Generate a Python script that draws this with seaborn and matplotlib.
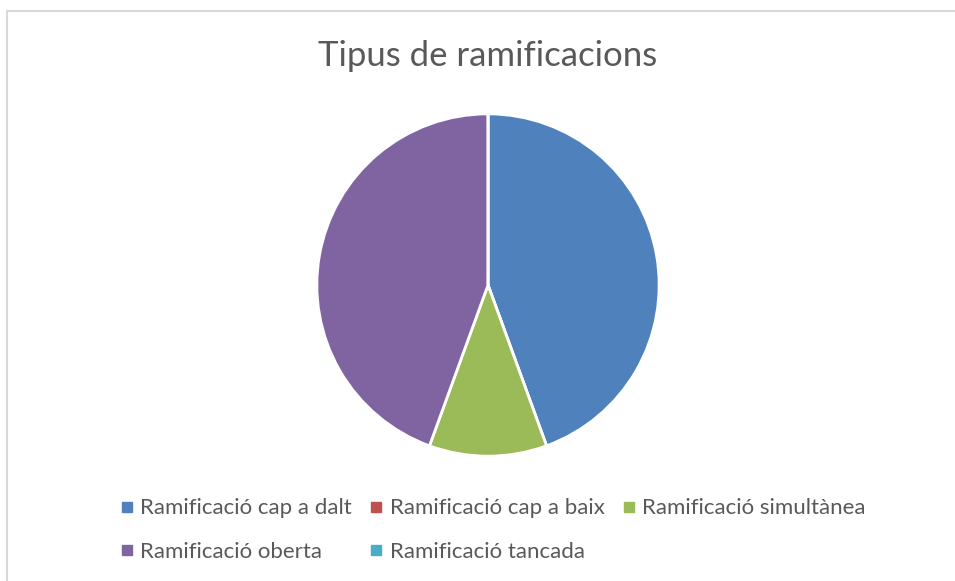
import matplotlib
matplotlib.use("Agg")
import matplotlib.pyplot as plt
import seaborn as sns
from matplotlib.patches import Rectangle
from matplotlib.lines import Line2D

categories = ["Ramificació cap a dalt", "Ramificació cap a baix",
              "Ramificació simultànea", "Ramificació oberta", "Ramificació tancada"]
values = [4, 0, 1, 4, 0]
colors = ["#4F81BD", "#C0504D", "#9BBB59", "#8064A2", "#4BACC6"]
title = "Tipus de ramificacions"

sns.set_theme(style="white")
plt.rcParams['font.family'] = ['Lato', 'DejaVu Sans']

fig = plt.figure(figsize=(9.55, 5.81), dpi=100)
fig.patch.set_facecolor("white")

# chart area border (right and bottom fall outside the picture)
fig.add_artist(Rectangle((7 / 955, -0.05), 1.1, (581 - 11) / 581 + 0.05,
                         transform=fig.transFigure, fill=False,
                         edgecolor="#D9D9D9", linewidth=1.5))

ax = fig.add_axes([0.3309, 0.2134, 0.3602, 0.5921])
ax.pie(values, colors=colors, startangle=90, counterclock=False,
       wedgeprops=dict(edgecolor="white", linewidth=2))
ax.set_xlim(-1.005, 1.005)
ax.set_ylim(-1.005, 1.005)
ax.set_aspect("equal")
ax.axis("off")

fig.text(488 / 955, 1 - 56 / 581, title, ha="center", va="center",
         fontsize=25, color="#595959")

# legend is filled row by row in the reference; matplotlib fills by column
order = [0, 3, 1, 4, 2]
handles = [Line2D([], [], marker="s", linestyle="none", markersize=6.5,
                  markerfacecolor=colors[i], markeredgecolor=colors[i]) for i in order]
labels = [categories[i] for i in order]
fig.legend(handles, labels, loc="center left", ncol=3, frameon=False,
           bbox_to_anchor=(109 / 955, 1 - 530 / 581), fontsize=16,
           labelcolor="#595959", handlelength=0.6, handletextpad=0.3,
           columnspacing=0.8, labelspacing=1.05, borderpad=0)

fig.savefig("out.png", dpi=100)
